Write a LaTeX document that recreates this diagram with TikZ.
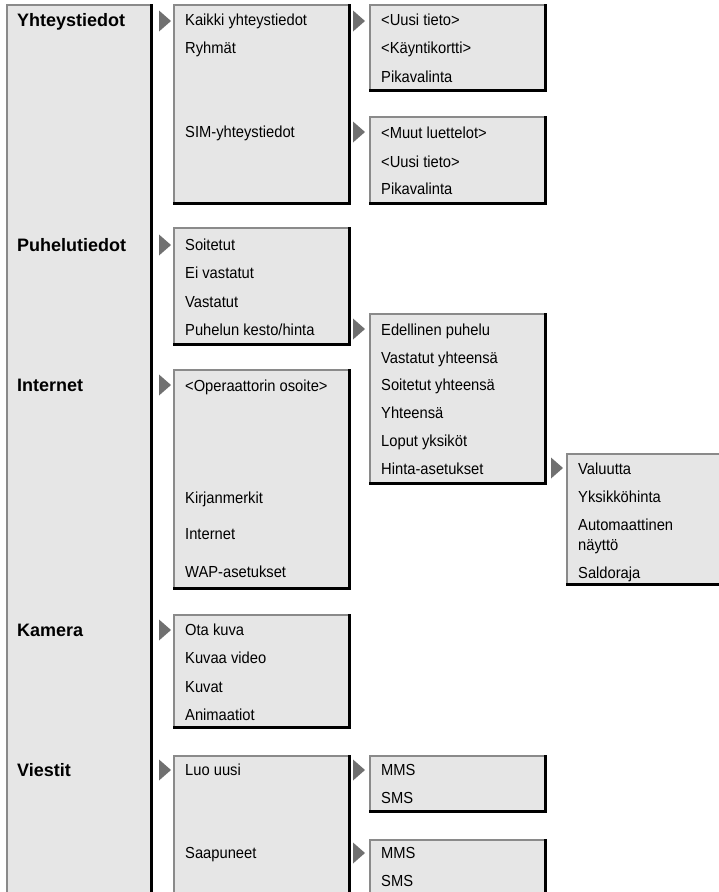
\documentclass[tikz,border=0pt]{standalone}
\usepackage{fontspec}
\setmainfont{Liberation Sans}
\newfontfamily\itemfont{Liberation Sans}[FakeStretch=0.92]
\definecolor{menugray}{HTML}{E6E6E6}
\definecolor{edgegray}{HTML}{8A8A8A}
\definecolor{tipgray}{HTML}{707070}
\tikzset{
  boxfill/.style={fill=menugray},
  lightedge/.style={draw=edgegray, line width=1.6pt},
  darkedge/.style={draw=black, line width=3pt, line cap=rect},
  menutip/.style={fill=tipgray},
  item/.style={anchor=base west, inner sep=0pt, font=\itemfont\fontsize{16}{20}\selectfont},
  head/.style={anchor=base west, inner sep=0pt, font=\fontsize{18}{21}\selectfont\bfseries}
}
% box: left, top, right, bottom
\newcommand{\menubox}[4]{%
  \fill[boxfill] (#1,#2) rectangle (#3,#4);
  \draw[lightedge] (#1,#4) -- (#1,#2) -- (#3,#2);
  \draw[darkedge] (#3,#2) -- (#3,#4) -- (#1,#4);}
% small triangle pointing right: left x, middle y
\newcommand{\menuarrow}[2]{%
  \fill[menutip] (#1,#2-10.5) -- (#1+12,#2) -- (#1,#2+10.5) -- cycle;}
\begin{document}
\begin{tikzpicture}[x=1pt,y=-1pt]
\useasboundingbox (0,0) rectangle (719,892);
\clip (0,0) rectangle (719,892);
%%% Draws boxes
% first column
\menubox{7}{5}{151}{910}
% second column
\menubox{174}{5}{349}{203}
\menubox{174}{228}{349}{344}
\menubox{174}{370}{349}{588}
\menubox{174}{615}{349}{727}
\menubox{174}{756}{349}{910}
% third column
\menubox{370}{5}{545}{90}
\menubox{370}{117}{545}{203}
\menubox{370}{314}{545}{483}
\menubox{370}{756}{545}{811}
\menubox{370}{840}{545}{910}
% fourth column
\menubox{567}{454}{740}{584}
%%% Draws arrows
\menuarrow{159}{21}
\menuarrow{159}{245}
\menuarrow{159}{385}
\menuarrow{159}{630}
\menuarrow{159}{770}
\menuarrow{353}{21}
\menuarrow{353}{132}
\menuarrow{353}{329}
\menuarrow{353}{770}
\menuarrow{353}{853}
\menuarrow{551}{468}
%%% Labels main menu
\node[head] (yht) at (17,26) {Yhteystiedot};
\node[head] (puh) at (17,251) {Puhelutiedot};
\node[head] (net) at (17,391) {Internet};
\node[head] (kam) at (17,636) {Kamera};
\node[head] (vie) at (17,776) {Viestit};
%%% Labels second column
\node[item] (kaikki) at (185,25) {Kaikki yhteystiedot};
\node[item] (ryhmat) at (185,53) {Ryhmät};
\node[item] (sim) at (185,137) {SIM-yhteystiedot};
\node[item] (soit) at (185,250) {Soitetut};
\node[item] (eivast) at (185,278) {Ei vastatut};
\node[item] (vast) at (185,307) {Vastatut};
\node[item] (kesto) at (185,335) {Puhelun kesto/hinta};
\node[item] (oper) at (185,391) {<Operaattorin osoite>};
\node[item] (kirja) at (185,503) {Kirjanmerkit};
\node[item] (inet) at (185,539) {Internet};
\node[item] (wap) at (185,577) {WAP-asetukset};
\node[item] (ota) at (185,635) {Ota kuva};
\node[item] (video) at (185,663) {Kuvaa video};
\node[item] (kuvat) at (185,692) {Kuvat};
\node[item] (anim) at (185,720) {Animaatiot};
\node[item] (luo) at (185,775) {Luo uusi};
\node[item] (saap) at (185,858) {Saapuneet};
%%% Labels third column
\node[item] (uusi) at (381,25) {<Uusi tieto>};
\node[item] (kortti) at (381,53) {<Käyntikortti>};
\node[item] (pika) at (381,82) {Pikavalinta};
\node[item] (muut) at (381,138) {<Muut luettelot>};
\node[item] (uusib) at (381,167) {<Uusi tieto>};
\node[item] (pikab) at (381,194) {Pikavalinta};
\node[item] (edel) at (381,335) {Edellinen puhelu};
\node[item] (vastyht) at (381,363) {Vastatut yhteensä};
\node[item] (soityht) at (381,390) {Soitetut yhteensä};
\node[item] (yhteensa) at (381,418) {Yhteensä};
\node[item] (loput) at (381,446) {Loput yksiköt};
\node[item] (hinta) at (381,474) {Hinta-asetukset};
\node[item] (mms) at (381,775) {MMS};
\node[item] (sms) at (381,803) {SMS};
\node[item] (mmsb) at (381,858) {MMS};
\node[item] (smsb) at (381,886) {SMS};
%%% Labels fourth column
\node[item] (valuutta) at (578,474) {Valuutta};
\node[item] (yksikko) at (578,502) {Yksikköhinta};
\node[item] (auto) at (578,530) {Automaattinen};
\node[item] (autob) at (578,550) {näyttö};
\node[item] (saldo) at (578,578) {Saldoraja};
\end{tikzpicture}
\end{document}
